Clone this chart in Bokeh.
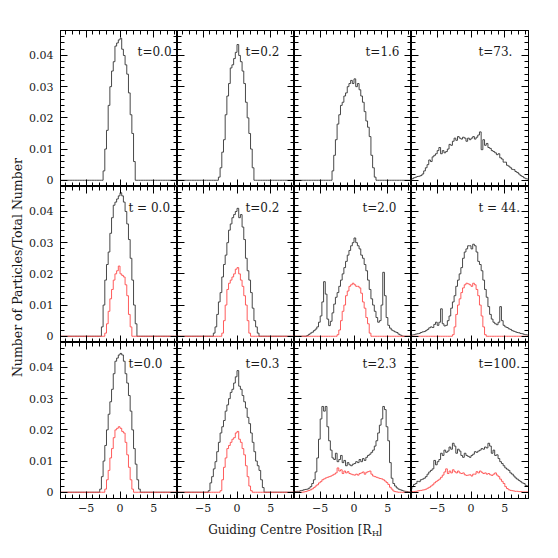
import math
import numpy as np
from bokeh.plotting import figure
from bokeh.layouts import gridplot, row, column
from bokeh.models import (Range1d, LinearAxis, SingleIntervalTicker, Label,
                          CustomJSTickFormatter)
from bokeh.embed import file_html
from bokeh.resources import INLINE

# ---------------- data (histogram bins, width 0.25, from -9 to 9) ----------------
EDGE0 = -9.0
BIN = 0.25
NBIN = 72

# row 1 (single population)
R1_T00_START = -2.5
R1_T00 = [0.003, 0.010, 0.016, 0.024, 0.030, 0.035, 0.038, 0.043, 0.044, 0.045,
          0.0455, 0.042, 0.040, 0.037, 0.034, 0.028, 0.021, 0.015, 0.006]
R1_T02_START = -2.75
R1_T02 = [0.001, 0.004, 0.009, 0.013, 0.021, 0.027, 0.031, 0.036, 0.037, 0.039, 0.041,
          0.0435, 0.040, 0.038, 0.035, 0.031, 0.025, 0.020, 0.015, 0.010, 0.004]
R1_T16_START = -3.25
R1_T16 = [0.003, 0.008, 0.013, 0.018, 0.021, 0.024, 0.025, 0.027, 0.028, 0.030, 0.031, 0.032, 0.031,
          0.0325, 0.030, 0.031, 0.029, 0.027, 0.025, 0.022, 0.019, 0.017, 0.014, 0.008, 0.004, 0.001]
R1_T73_START = -9.0
R1_T73 = [0.0003, 0.0005, 0.0008, 0.001, 0.0012, 0.0013, 0.0015, 0.002, 0.003, 0.004, 0.005, 0.0065,
          0.006, 0.0075, 0.008, 0.0085, 0.0095, 0.0105, 0.0085, 0.0095, 0.0088, 0.0092, 0.010, 0.0115,
          0.0112, 0.0125, 0.0135, 0.0128, 0.014, 0.0135, 0.0132, 0.0138, 0.0135, 0.0125, 0.0135, 0.013,
          0.0135, 0.014, 0.0132, 0.0138, 0.0145, 0.0155, 0.0098, 0.013, 0.0112, 0.0118, 0.0105, 0.0102,
          0.0095, 0.0092, 0.0088, 0.0082, 0.0085, 0.0072, 0.0068, 0.0058, 0.0058, 0.0048, 0.0045, 0.004,
          0.0035, 0.0034, 0.0028, 0.0025, 0.002, 0.0015, 0.0012, 0.0008, 0.0005, 0.0004, 0.0003, 0.0002]

# row 2 (all particles = black, subset = red)
R2_T00_START = -2.75
R2_T00 = [0.003, 0.010, 0.018, 0.023, 0.027, 0.033, 0.038, 0.042, 0.043, 0.044, 0.045,
          0.046, 0.045, 0.043, 0.040, 0.036, 0.031, 0.025, 0.018, 0.010, 0.004]
R2_T00_RED_START = -2.25
R2_T00_RED = [0.001, 0.004, 0.008, 0.012, 0.015, 0.018, 0.020, 0.021, 0.0225,
              0.020, 0.0195, 0.019, 0.0165, 0.013, 0.007, 0.003]
R2_T02_START = -3.5
R2_T02 = [0.001, 0.003, 0.007, 0.011, 0.014, 0.019, 0.023, 0.026, 0.030, 0.034, 0.036, 0.038, 0.039, 0.040,
          0.041, 0.038, 0.039, 0.035, 0.031, 0.025, 0.021, 0.018, 0.014, 0.009, 0.005, 0.003, 0.001]
R2_T02_RED_START = -2.25
R2_T02_RED = [0.001, 0.005, 0.010, 0.015, 0.017, 0.018, 0.019, 0.020, 0.0215,
              0.022, 0.020, 0.018, 0.016, 0.013, 0.010, 0.005, 0.001]
R2_T20_START = -7.0
R2_T20 = [0.0002, 0.0006, 0.001, 0.0013, 0.0018, 0.0023, 0.003, 0.0045, 0.0065, 0.011, 0.0175, 0.0135,
          0.0055, 0.0034, 0.0048, 0.0075, 0.0103, 0.0125, 0.014, 0.016, 0.018, 0.020, 0.022, 0.024,
          0.026, 0.0275, 0.029, 0.030,
          0.0315, 0.030, 0.029, 0.028, 0.026, 0.025, 0.023, 0.021, 0.018, 0.015, 0.012, 0.010, 0.008,
          0.006, 0.0045, 0.005, 0.010, 0.0205, 0.013, 0.006, 0.0035, 0.0026, 0.002, 0.0017, 0.0014,
          0.0012, 0.0007, 0.0004, 0.0001]
R2_T20_RED_START = -2.5
R2_T20_RED = [0.0005, 0.002, 0.005, 0.008, 0.010, 0.013, 0.0145, 0.016, 0.0165, 0.017,
              0.0165, 0.016, 0.016, 0.0155, 0.0138, 0.011, 0.009, 0.006, 0.004, 0.001]
R2_T44_START = -9.0
R2_T44 = [0.0003, 0.0004, 0.0005, 0.0007, 0.0008, 0.0009, 0.0012, 0.0014, 0.0015, 0.0018, 0.0022, 0.0027,
          0.003, 0.0028, 0.0038, 0.0045, 0.0035, 0.0045, 0.0088, 0.004, 0.0033, 0.0035, 0.005, 0.0065,
          0.009, 0.011, 0.013, 0.016, 0.018, 0.020, 0.022, 0.025, 0.027, 0.028, 0.029, 0.029,
          0.028, 0.0295, 0.029, 0.027, 0.024, 0.023, 0.021, 0.018, 0.015, 0.0125, 0.0095, 0.007,
          0.0055, 0.0045, 0.004, 0.0037, 0.0045, 0.0095, 0.005, 0.0035, 0.003, 0.0028, 0.0024, 0.0022,
          0.0018, 0.0016, 0.0014, 0.0012, 0.0011, 0.0009, 0.0008, 0.0006, 0.0005, 0.0004, 0.0003, 0.0003]
R2_T44_RED_START = -2.75
R2_T44_RED = [0.0005, 0.003, 0.007, 0.010, 0.012, 0.014, 0.0155, 0.0165, 0.017, 0.0168, 0.0165,
              0.016, 0.017, 0.0165, 0.015, 0.013, 0.010, 0.0065, 0.003, 0.0005]

# row 3
R3_T00_START = -3.0
R3_T00 = [0.001, 0.005, 0.010, 0.015, 0.020, 0.025, 0.029, 0.033, 0.038, 0.042, 0.043, 0.044,
          0.0445, 0.044, 0.042, 0.038, 0.035, 0.031, 0.026, 0.020, 0.014, 0.009, 0.004, 0.001]
R3_T00_RED_START = -2.25
R3_T00_RED = [0.001, 0.004, 0.007, 0.011, 0.014, 0.0175, 0.020, 0.0205, 0.021,
              0.0205, 0.0195, 0.019, 0.016, 0.012, 0.008, 0.004, 0.001]
R3_T03_START = -4.25
R3_T03 = [0.0005, 0.003, 0.005, 0.0075, 0.0098, 0.013, 0.016, 0.019, 0.021, 0.023, 0.026, 0.028,
          0.030, 0.032, 0.033, 0.035, 0.037,
          0.039, 0.034, 0.033, 0.031, 0.029, 0.027, 0.024, 0.022, 0.019, 0.016, 0.013, 0.010,
          0.0085, 0.007, 0.004, 0.0015]
R3_T03_RED_START = -2.5
R3_T03_RED = [0.0005, 0.004, 0.008, 0.011, 0.014, 0.015, 0.016, 0.017, 0.0175, 0.019,
              0.0195, 0.017, 0.016, 0.014, 0.012, 0.0085, 0.005, 0.002, 0.0005]
R3_T23_START = -9.0
R3_T23 = [0.0001, 0.0002, 0.0003, 0.0003, 0.0005, 0.0006, 0.0008, 0.0009, 0.001, 0.0013, 0.0018, 0.0028,
          0.004, 0.0065, 0.011, 0.017, 0.0235, 0.0275, 0.026, 0.0275, 0.021, 0.0165, 0.0135, 0.011,
          0.0105, 0.0125, 0.0098, 0.0105, 0.0118, 0.0095, 0.0102, 0.0085, 0.0095, 0.0088, 0.0085, 0.009,
          0.0092, 0.0098, 0.0095, 0.0105, 0.0098, 0.0108, 0.0102, 0.0112, 0.0118, 0.0122, 0.0128, 0.0135,
          0.0148, 0.0165, 0.019, 0.0215, 0.0235, 0.0275, 0.0265, 0.021, 0.0165, 0.0095, 0.0045, 0.0028,
          0.002, 0.0014, 0.001, 0.0008, 0.0006, 0.0004, 0.0003, 0.0002, 0.0001, 0.0, 0.0, 0.0]
R3_T23_RED_START = -9.0
R3_T23_RED = [0.0, 0.0, 0.0, 0.0, 0.0, 0.0, 0.0001, 0.0002, 0.0004, 0.0006, 0.0008, 0.0011,
              0.0015, 0.002, 0.0024, 0.003, 0.0034, 0.004, 0.0043, 0.0046, 0.0048, 0.005, 0.0052, 0.0055,
              0.0058, 0.0062, 0.0078, 0.0068, 0.0072, 0.006, 0.0068, 0.0062, 0.0066, 0.006, 0.0058, 0.0056,
              0.0055, 0.0058, 0.0055, 0.006, 0.0062, 0.0065, 0.0058, 0.0064, 0.0066, 0.0068, 0.0058, 0.0052,
              0.005, 0.0048, 0.0046, 0.0044, 0.0043, 0.004, 0.0036, 0.0031, 0.0025, 0.0016, 0.001, 0.0004,
              0.0002, 0.0001, 0.0, 0.0, 0.0, 0.0, 0.0, 0.0, 0.0, 0.0, 0.0, 0.0]
R3_T100_START = -9.0
R3_T100 = [0.001, 0.0018, 0.0025, 0.0028, 0.0035, 0.0034, 0.004, 0.0042, 0.0045, 0.005, 0.0058, 0.0065,
           0.007, 0.0075, 0.0102, 0.0088, 0.0098, 0.0105, 0.0125, 0.0118, 0.0135, 0.0128, 0.0132, 0.0145,
           0.0138, 0.0157, 0.0148, 0.0125, 0.0138, 0.0132, 0.0118, 0.0112, 0.0125, 0.0118, 0.0115, 0.0112,
           0.0118, 0.0122, 0.013, 0.0128, 0.0132, 0.0135, 0.014, 0.0138, 0.0145, 0.0142, 0.0157, 0.0148,
           0.0125, 0.0135, 0.0118, 0.012, 0.0108, 0.0098, 0.0092, 0.0085, 0.0078, 0.0074, 0.007, 0.0062,
           0.0058, 0.0052, 0.0046, 0.0042, 0.0038, 0.0034, 0.003, 0.0028, 0.0022, 0.002, 0.0015, 0.0012]
R3_T100_RED_START = -9.0
R3_T100_RED = [0.0001, 0.0002, 0.0002, 0.0003, 0.0004, 0.0005, 0.0006, 0.0007, 0.0008, 0.001, 0.0013, 0.0016,
               0.002, 0.0024, 0.003, 0.0034, 0.0038, 0.0042, 0.0048, 0.0055, 0.0065, 0.0075, 0.006, 0.0068,
               0.0062, 0.0072, 0.0066, 0.0062, 0.0068, 0.0062, 0.006, 0.0062, 0.0056, 0.0054, 0.0055, 0.0056,
               0.0052, 0.0058, 0.0058, 0.0066, 0.0062, 0.0068, 0.0064, 0.006, 0.0062, 0.0058, 0.006, 0.0056,
               0.0054, 0.0058, 0.0062, 0.0055, 0.005, 0.0042, 0.0035, 0.0028, 0.0018, 0.0012, 0.0008, 0.0006,
               0.0005, 0.0004, 0.0003, 0.0003, 0.0002, 0.0002, 0.0001, 0.0001, 0.0001, 0.0001, 0.0001, 0.0]

TIME_LABELS = [["t=0.0", "t=0.2", "t=1.6", "t=73."],
               ["t = 0.0", "t=0.2", "t=2.0", "t = 44."],
               ["t=0.0", "t=0.3", "t=2.3", "t=100."]]

BLACK_SERIES = [[(R1_T00_START, R1_T00), (R1_T02_START, R1_T02), (R1_T16_START, R1_T16), (R1_T73_START, R1_T73)],
                [(R2_T00_START, R2_T00), (R2_T02_START, R2_T02), (R2_T20_START, R2_T20), (R2_T44_START, R2_T44)],
                [(R3_T00_START, R3_T00), (R3_T03_START, R3_T03), (R3_T23_START, R3_T23), (R3_T100_START, R3_T100)]]
RED_SERIES = [[None, None, None, None],
              [(R2_T00_RED_START, R2_T00_RED), (R2_T02_RED_START, R2_T02_RED),
               (R2_T20_RED_START, R2_T20_RED), (R2_T44_RED_START, R2_T44_RED)],
              [(R3_T00_RED_START, R3_T00_RED), (R3_T03_RED_START, R3_T03_RED),
               (R3_T23_RED_START, R3_T23_RED), (R3_T100_RED_START, R3_T100_RED)]]

# ---------------- helpers ----------------
CENTERS = EDGE0 + BIN * (np.arange(NBIN) + 0.5)


def full_hist(start, vals):
    out = np.zeros(NBIN)
    i0 = int(round((start - EDGE0) / BIN))
    out[i0:i0 + len(vals)] = vals
    return out


FONT = "DejaVu Serif"
TXT = "#1a1a1a"
BLACK_LINE = "#333333"
RED_LINE = "#ff4a4a"

LABEL_X = [[2.6, 1.25, 1.7, 1.1],
           [1.25, 1.25, 1.25, 1.1],
           [1.25, 1.25, 1.25, 1.1]]

y_fmt = CustomJSTickFormatter(code="return Math.abs(tick) < 1e-9 ? '0' : tick.toFixed(2);")
x_fmt = CustomJSTickFormatter(code="var v = Math.round(tick); return (v < 0 ? '\\u2212' : '') + Math.abs(v);")


def style_axis(ax, is_x, show):
    ax.ticker = SingleIntervalTicker(interval=5, num_minor_ticks=5) if is_x else \
        SingleIntervalTicker(interval=0.01, num_minor_ticks=5)
    ax.axis_line_color = "black"
    ax.major_tick_in = 7
    ax.major_tick_out = 0
    ax.minor_tick_in = 4
    ax.minor_tick_out = 0
    ax.major_tick_line_color = "black"
    ax.minor_tick_line_color = "black"
    if show:
        ax.formatter = x_fmt if is_x else y_fmt
        ax.major_label_text_font = FONT
        ax.major_label_text_font_size = "11px"
        ax.major_label_text_color = TXT
        ax.major_label_standoff = 5 if is_x else 7
    else:
        ax.major_label_text_font_size = "0px"
        ax.major_label_text_color = None
        ax.major_label_text_alpha = 0
        ax.major_label_standoff = 0


panels = []
for r in range(3):
    row_figs = []
    for c in range(4):
        p = figure(frame_width=117, frame_height=156,
                   x_range=Range1d(-8.8, 8.5), y_range=Range1d(-0.002, 0.048),
                   toolbar_location=None, output_backend="svg", min_border=0,
                   min_border_left=36 if c == 0 else 0,
                   min_border_right=14 if c == 3 else 0,
                   min_border_top=30 if r == 0 else 0,
                   min_border_bottom=22 if r == 2 else 0)
        p.add_layout(LinearAxis(), "above")
        p.add_layout(LinearAxis(), "right")
        for ax in p.below + p.above:
            style_axis(ax, True, show=(r == 2 and ax in p.below))
        for ax in p.left + p.right:
            style_axis(ax, False, show=(c == 0 and ax in p.left))
        p.grid.visible = False
        p.outline_line_color = "black"
        p.background_fill_color = "white"
        p.border_fill_color = "white"

        bs, bv = BLACK_SERIES[r][c]
        p.step(CENTERS, full_hist(bs, bv), mode="center", line_color=BLACK_LINE, line_width=0.9)
        if RED_SERIES[r][c] is not None:
            rs, rv = RED_SERIES[r][c]
            p.step(CENTERS, full_hist(rs, rv), mode="center", line_color=RED_LINE, line_width=0.9)

        p.add_layout(Label(x=LABEL_X[r][c], y=0.041, text=TIME_LABELS[r][c],
                           text_font=FONT, text_font_size="12px", text_color=TXT,
                           text_align="left", text_baseline="middle"))
        row_figs.append(p)
    panels.append(row_figs)

grid = gridplot(panels, toolbar_location=None)

# y-axis title
ylab = figure(width=24, height=520, x_range=Range1d(0, 24), y_range=Range1d(0, 520),
              toolbar_location=None, output_backend="svg", min_border=0,
              x_axis_location=None, y_axis_location=None)
ylab.grid.visible = False
ylab.outline_line_color = None
ylab.add_layout(Label(x=17, y=253, text="Number of Particles/Total Number", angle=math.pi / 2,
                      text_font=FONT, text_font_size="12.5px", text_color=TXT,
                      text_align="center", text_baseline="middle"))

# x-axis title
xlab = figure(width=542, height=28, x_range=Range1d(0, 542), y_range=Range1d(0, 28),
              toolbar_location=None, output_backend="svg", min_border=0,
              x_axis_location=None, y_axis_location=None)
xlab.grid.visible = False
xlab.outline_line_color = None
xlab.add_layout(Label(x=371, y=19, text="Guiding Centre Position [R", text_font=FONT,
                      text_font_size="12px", text_color=TXT, text_align="right", text_baseline="middle"))
xlab.add_layout(Label(x=371.5, y=15, text="H", text_font=FONT,
                      text_font_size="8px", text_color=TXT, text_align="left", text_baseline="middle"))
xlab.add_layout(Label(x=377, y=19, text="]", text_font=FONT,
                      text_font_size="12px", text_color=TXT, text_align="left", text_baseline="middle"))

layout = column(row(ylab, grid), xlab)

open("out.html", "w").write(file_html(layout, INLINE, title="Guiding centre distributions"))
